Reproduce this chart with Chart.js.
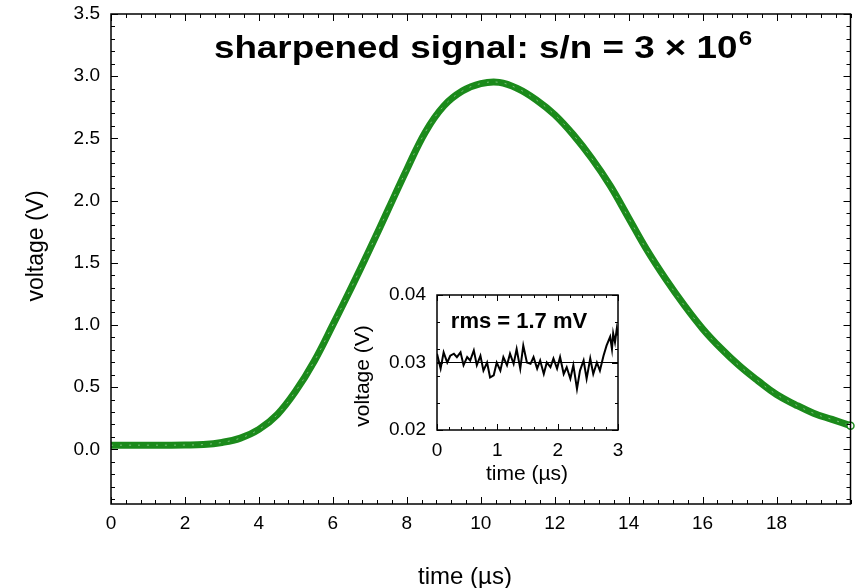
<!DOCTYPE html>
<html>
<head>
<meta charset="utf-8">
<script src="https://cdn.jsdelivr.net/npm/chart.js@4/dist/chart.umd.min.js"></script>
<style>
  body { margin: 0; background: #fff; }
  #wrap { position: relative; width: 856px; height: 588px; }
  #mainChart { position: absolute; left: 0; top: 0; }
  #insetChart { position: absolute; left: 340px; top: 280px; }
</style>
</head>
<body>
<div id="wrap">
  <canvas id="mainChart" width="856" height="588"></canvas>
  <canvas id="insetChart" width="300" height="210"></canvas>
</div>
<script>
// sharpened pulse (µs, V)
const timeUs = [0, 0.5, 1, 1.5, 2, 2.5, 3, 3.5, 4, 4.5, 5, 5.5, 6, 6.5, 7, 7.5, 8, 8.5, 9, 9.5,
  10, 10.5, 11, 11.5, 12, 12.5, 13, 13.5, 14, 14.5, 15, 15.5, 16, 16.5, 17, 17.5, 18, 18.5, 19, 19.5, 20];
const signalV = [0.033, 0.033, 0.033, 0.033, 0.034, 0.038, 0.055, 0.09, 0.16, 0.28, 0.47, 0.71, 1.00, 1.30, 1.61, 1.93, 2.25, 2.55, 2.76, 2.88,
  2.94, 2.95, 2.90, 2.81, 2.69, 2.53, 2.34, 2.12, 1.86, 1.60, 1.37, 1.16, 0.97, 0.81, 0.67, 0.55, 0.44, 0.36, 0.29, 0.24, 0.19];
const xTicks = [0, 2, 4, 6, 8, 10, 12, 14, 16, 18];
const yTicks = [0, 0.5, 1, 1.5, 2, 2.5, 3, 3.5];

// inset: baseline noise
const noiseTimeUs = [0.00, 0.06, 0.11, 0.17, 0.22, 0.28, 0.33, 0.39, 0.44, 0.50, 0.55, 0.61, 0.66, 0.72, 0.77, 0.83, 0.88, 0.94, 0.99, 1.05,
  1.10, 1.16, 1.21, 1.27, 1.32, 1.38, 1.43, 1.49, 1.55, 1.60, 1.66, 1.71, 1.77, 1.82, 1.88, 1.93, 1.99, 2.04, 2.10, 2.15,
  2.21, 2.26, 2.32, 2.37, 2.43, 2.48, 2.54, 2.59, 2.65, 2.70, 2.76, 2.81, 2.87, 2.90, 2.92, 2.95, 2.98, 3.00];
const noiseV = [0.0313, 0.0291, 0.0315, 0.0300, 0.0310, 0.0313, 0.0308, 0.0315, 0.0296, 0.0308, 0.0303, 0.0318, 0.0296, 0.0310, 0.0288, 0.0300, 0.0278, 0.0281, 0.0300, 0.0288,
  0.0308, 0.0296, 0.0313, 0.0298, 0.0320, 0.0291, 0.0325, 0.0300, 0.0298, 0.0308, 0.0291, 0.0303, 0.0283, 0.0300, 0.0293, 0.0306, 0.0291, 0.0308, 0.0283, 0.0293,
  0.0276, 0.0296, 0.0261, 0.0288, 0.0303, 0.0276, 0.0306, 0.0283, 0.0300, 0.0288, 0.0310, 0.0325, 0.0338, 0.0320, 0.0343, 0.0330, 0.0350, 0.0340];
const levelTimeUs = [0, 3];
const levelV = [0.03, 0.03];
const insetXTicks = [0, 1, 2, 3];
const insetYTicks = [0.02, 0.03, 0.04];

const family = '"Liberation Sans", Arial, Helvetica, sans-serif';
const green = '#1b8a1b';
Chart.defaults.font.family = family;
Chart.defaults.color = '#000';

// box round the plot with inward ticks on all four sides
const boxTicks = {
  id: 'boxTicks',
  afterDraw(chart, args, o) {
    const {ctx, chartArea: a, scales} = chart;
    const x = scales.x, y = scales.y;
    ctx.save();
    ctx.strokeStyle = '#000';
    ctx.lineWidth = 1;
    ctx.beginPath();
    function mark(scale, v, len) {
      const p = Math.round(scale.getPixelForValue(v)) + 0.5;
      if (scale === x) {
        ctx.moveTo(p, a.bottom); ctx.lineTo(p, a.bottom - len);
        ctx.moveTo(p, a.top); ctx.lineTo(p, a.top + len);
      } else {
        ctx.moveTo(a.left, p); ctx.lineTo(a.left + len, p);
        ctx.moveTo(a.right, p); ctx.lineTo(a.right - len, p);
      }
    }
    [[x, o.xMinor], [y, o.yMinor]].forEach(([s, step]) => {
      const k0 = Math.ceil(s.min / step - 1e-6);
      const k1 = Math.floor(s.max / step + 1e-6);
      for (let k = k0; k <= k1; k++) mark(s, k * step, o.minor);
      s.ticks.forEach(t => mark(s, t.value, o.major));
    });
    ctx.stroke();
    ctx.lineWidth = o.lineWidth;
    ctx.strokeRect(a.left, a.top, a.right - a.left, a.bottom - a.top);
    ctx.restore();
  }
};

// caption and axis names, with optional superscript and rotation
const captions = {
  id: 'captions',
  afterDraw(chart, args, o) {
    const ctx = chart.ctx;
    o.items.forEach(it => {
      const weight = it.bold ? 'bold ' : '';
      ctx.save();
      ctx.fillStyle = '#000';
      ctx.textBaseline = 'alphabetic';
      ctx.translate(it.x, it.y);
      if (it.rotate) ctx.rotate(-Math.PI / 2);
      ctx.scale(it.stretch || 1, 1);
      ctx.font = `${weight}${it.size}px ${family}`;
      const w1 = ctx.measureText(it.text).width;
      let w2 = 0;
      if (it.sup) {
        ctx.font = `${weight}${it.supSize}px ${family}`;
        w2 = ctx.measureText(it.sup).width + 1;
      }
      const x0 = -(w1 + w2) / 2;
      const base = it.size * 0.36;
      ctx.font = `${weight}${it.size}px ${family}`;
      ctx.fillText(it.text, x0, base);
      if (it.sup) {
        ctx.font = `${weight}${it.supSize}px ${family}`;
        ctx.fillText(it.sup, x0 + w1 + 1, base - it.rise);
      }
      ctx.restore();
    });
  }
};

const lastIdx = timeUs.length - 1;

new Chart(document.getElementById('mainChart'), {
  type: 'line',
  data: {
    datasets: [
      {
        data: timeUs.map((t, i) => ({x: t, y: signalV[i]})),
        borderColor: 'rgba(200, 235, 200, 0.55)',
        borderWidth: 1,
        borderDash: [2, 7],
        pointRadius: 0,
        tension: 0.4,
        order: 0
      },
      {
        data: timeUs.map((t, i) => ({x: t, y: signalV[i]})),
        borderColor: green,
        borderWidth: 7,
        pointRadius: ctx => ctx.dataIndex === lastIdx ? 3.5 : 0,
        pointBackgroundColor: '#fff',
        pointBorderColor: green,
        pointBorderWidth: 1.5,
        tension: 0.4,
        clip: false,
        order: 1
      }
    ]
  },
  options: {
    responsive: false,
    animation: false,
    layout: {padding: {top: 14, right: 4}},
    plugins: {
      legend: {display: false},
      tooltip: {enabled: false},
      boxTicks: {xMinor: 0.4, yMinor: 0.1, major: 7, minor: 4, lineWidth: 1.5},
      captions: {items: [
        {text: 'sharpened signal: s/n = 3 \u00d7 10', sup: '6', bold: true, size: 32, supSize: 21, rise: 13, stretch: 1.15, x: 483, y: 46},
        {text: 'time (\u00b5s)', size: 24, x: 465, y: 575},
        {text: 'voltage (V)', size: 23, rotate: true, x: 35, y: 246}
      ]}
    },
    scales: {
      x: {
        type: 'linear',
        min: 0,
        max: 20,
        afterBuildTicks: s => { s.ticks = xTicks.map(v => ({value: v})); },
        afterFit: s => { s.height = 84; s.paddingLeft = 0; s.paddingRight = 0; },
        grid: {display: false},
        border: {display: false},
        ticks: {font: {size: 19}, padding: 0, maxRotation: 0}
      },
      y: {
        min: -0.44,
        max: 3.5,
        afterBuildTicks: s => { s.ticks = yTicks.map(v => ({value: v})); },
        afterFit: s => { s.width = 111; s.paddingTop = 0; s.paddingBottom = 0; },
        grid: {display: false},
        border: {display: false},
        ticks: {font: {size: 19}, padding: 3, callback: v => v.toFixed(1)}
      }
    }
  },
  plugins: [boxTicks, captions]
});

new Chart(document.getElementById('insetChart'), {
  type: 'line',
  data: {
    datasets: [
      {
        data: noiseTimeUs.map((t, i) => ({x: t, y: noiseV[i]})),
        borderColor: '#000',
        borderWidth: 2,
        pointRadius: 0,
        tension: 0
      },
      {
        data: levelTimeUs.map((t, i) => ({x: t, y: levelV[i]})),
        borderColor: '#000',
        borderWidth: 1,
        pointRadius: 0
      }
    ]
  },
  options: {
    responsive: false,
    animation: false,
    layout: {padding: {top: 15, right: 22}},
    plugins: {
      legend: {display: false},
      tooltip: {enabled: false},
      boxTicks: {xMinor: 0.2, yMinor: 0.004, major: 6, minor: 3, lineWidth: 1.5},
      captions: {items: [
        {text: 'rms = 1.7 mV', bold: true, size: 22, x: 179, y: 40},
        {text: 'time (\u00b5s)', size: 21, x: 187, y: 192},
        {text: 'voltage (V)', size: 21, rotate: true, x: 21, y: 96}
      ]}
    },
    scales: {
      x: {
        type: 'linear',
        min: 0,
        max: 3,
        afterBuildTicks: s => { s.ticks = insetXTicks.map(v => ({value: v})); },
        afterFit: s => { s.height = 60; s.paddingLeft = 0; s.paddingRight = 0; },
        grid: {display: false},
        border: {display: false},
        ticks: {font: {size: 19}, padding: 1, maxRotation: 0}
      },
      y: {
        min: 0.02,
        max: 0.04,
        afterBuildTicks: s => { s.ticks = insetYTicks.map(v => ({value: v})); },
        afterFit: s => { s.width = 97; s.paddingTop = 0; s.paddingBottom = 0; },
        grid: {display: false},
        border: {display: false},
        ticks: {font: {size: 19}, padding: 3, callback: v => v.toFixed(2)}
      }
    }
  },
  plugins: [boxTicks, captions]
});
</script>
</body>
</html>
